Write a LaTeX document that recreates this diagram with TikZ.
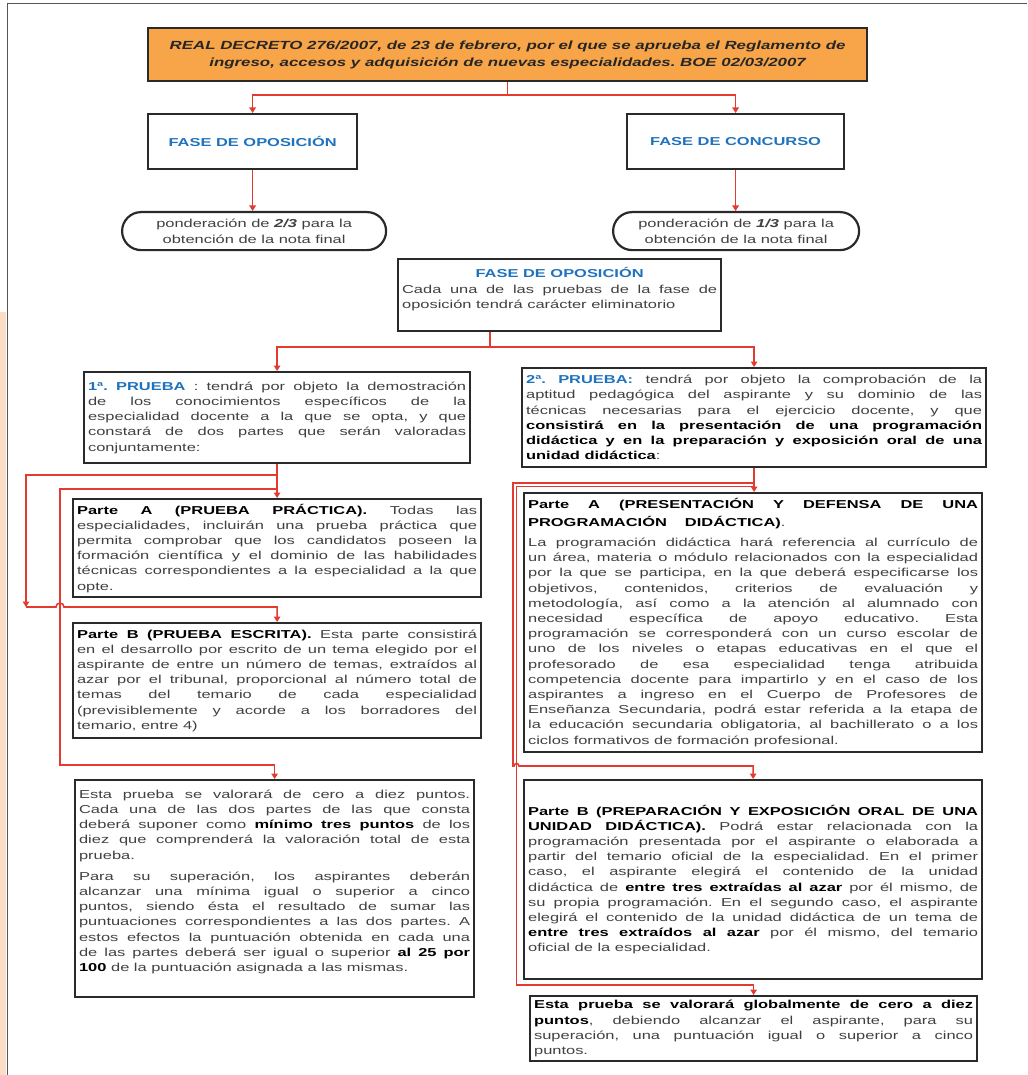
\documentclass[tikz,border=0pt]{standalone}
\usepackage{fontspec}
\setmainfont[FakeStretch=1.43]{Liberation Sans}
\usetikzlibrary{arrows.meta}

\definecolor{naranja}{HTML}{F7A548}
\definecolor{azulfase}{HTML}{1F72BE}
\definecolor{borde}{HTML}{2A2A2A}
\definecolor{cuerpo}{HTML}{404040}
\definecolor{rojo}{HTML}{E33B2F}
\definecolor{melocoton}{HTML}{FBDDC5}
\definecolor{marco}{HTML}{555555}

\hyphenpenalty=10000
\frenchspacing
\newcommand{\az}[1]{\textcolor{azulfase}{\textbf{#1}}}
\newcommand{\nb}[1]{\textbf{\color{black}#1}}
\newcommand{\padbot}[1]{\rule[-#1]{0pt}{#1}}

\begin{document}
\begin{tikzpicture}[x=1pt,y=1pt,
    caja/.style={draw=borde,line width=2.2pt,anchor=north west,inner xsep=4pt,inner ysep=2pt,
                 text=cuerpo,font=\fontsize{11.5}{15.2}\selectfont},
    just/.style={align=justify},
    flecha/.style={draw=rojo,line width=1.6pt,-{Triangle[width=6.5pt,length=5.5pt]}},
    linea/.style={draw=rojo,line width=1.6pt}]
\useasboundingbox (0,0) rectangle (1027,-1075);

\fill[melocoton] (0,-312) rectangle (6,-1075);
\draw[marco,line width=1pt] (7,-1075) -- (7,-4) -- (1027,-4);

\node[caja,fill=naranja,minimum width=719,minimum height=53,align=center,text=black!85,
      font=\fontsize{11.8}{17}\selectfont\bfseries\itshape] (title) at (147,-27)
      {REAL DECRETO 276/2007, de 23 de febrero, por el que se aprueba el Reglamento de\\
       ingreso, accesos y adquisición de nuevas especialidades. BOE 02/03/2007};

\node[caja,minimum width=209,minimum height=55] (opos) at (147,-113) {\az{FASE DE OPOSICIÓN}};
\node[caja,minimum width=217,minimum height=55] (conc) at (626,-113) {\az{FASE DE CONCURSO}};

\node[caja,rounded corners=19pt,minimum width=264,minimum height=38,align=center,
      font=\fontsize{11.5}{16}\selectfont] (pond1) at (121,-211)
      {ponderación de \textbf{\textit{2/3}} para la\\obtención de la nota final};
\node[caja,rounded corners=19pt,minimum width=246,minimum height=38,align=center,
      font=\fontsize{11.5}{16}\selectfont] (pond2) at (612,-211)
      {ponderación de \textbf{\textit{1/3}} para la\\obtención de la nota final};

\node[caja,just,text width=315,minimum height=72] (opos2) at (397,-258)
      {{\centering\az{FASE DE OPOSICIÓN}\par}
       Cada una de las pruebas de la fase de\linebreak oposición tendrá carácter eliminatorio\padbot{14pt}};

\node[caja,just,text width=378,minimum height=91] (p1) at (83,-371)
      {\az{1ª. PRUEBA} : tendrá por objeto la demostración\linebreak
       de los conocimientos específicos de la\linebreak
       especialidad docente a la que se opta, y que\linebreak
       constará de dos partes que serán valoradas\linebreak
       conjuntamente:};

\node[caja,just,text width=456,minimum height=99] (p2) at (521,-367)
      {\az{2ª. PRUEBA:} tendrá por objeto la comprobación de la\linebreak
       aptitud pedagógica del aspirante y su dominio de las\linebreak
       técnicas necesarias para el ejercicio docente, y que\linebreak
       \nb{consistirá en la presentación de una programación\linebreak
       didáctica y en la preparación y exposición oral de una\linebreak
       unidad didáctica}:};

\node[caja,just,text width=400,minimum height=98] (p1a) at (72,-498)
      {\nb{Parte A (PRUEBA PRÁCTICA).} Todas las\linebreak
       especialidades, incluirán una prueba práctica que\linebreak
       permita comprobar que los candidatos poseen la\linebreak
       formación científica y el dominio de las habilidades\linebreak
       técnicas correspondientes a la especialidad a la que\linebreak
       opte.};

\node[caja,just,text width=400,minimum height=115] (p1b) at (72,-622)
      {\nb{Parte B (PRUEBA ESCRITA).} Esta parte consistirá\linebreak
       en el desarrollo por escrito de un tema elegido por el\linebreak
       aspirante de entre un número de temas, extraídos al\linebreak
       azar por el tribunal, proporcional al número total de\linebreak
       temas del temario de cada especialidad\linebreak
       (previsiblemente y acorde a los borradores del\linebreak
       temario, entre 4)};

\node[caja,just,text width=391,minimum height=217] (p1v) at (74,-779)
      {Esta prueba se valorará de cero a diez puntos.\linebreak
       Cada una de las dos partes de las que consta\linebreak
       deberá suponer como \nb{mínimo tres puntos} de los\linebreak
       diez que comprenderá la valoración total de esta\linebreak
       prueba.\par\vspace{6pt}
       Para su superación, los aspirantes deberán\linebreak
       alcanzar una mínima igual o superior a cinco\linebreak
       puntos, siendo ésta el resultado de sumar las\linebreak
       puntuaciones correspondientes a las dos partes. A\linebreak
       estos efectos la puntuación obtenida en cada una\linebreak
       de las partes deberá ser igual o superior \nb{al 25 por\linebreak
       100} de la puntuación asignada a las mismas.\padbot{16pt}};

\node[caja,just,text width=450,minimum height=259] (p2a) at (523,-492)
      {{\fontsize{11.5}{17.5}\selectfont\nb{Parte A (PRESENTACIÓN Y DEFENSA DE UNA\linebreak
       PROGRAMACIÓN\hspace{18pt}DIDÁCTICA)}.\par}\vspace{5pt}
       La programación didáctica hará referencia al currículo de\linebreak
       un área, materia o módulo relacionados con la especialidad\linebreak
       por la que se participa, en la que deberá especificarse los\linebreak
       objetivos, contenidos, criterios de evaluación y\linebreak
       metodología, así como a la atención al alumnado con\linebreak
       necesidad específica de apoyo educativo. Esta\linebreak
       programación se corresponderá con un curso escolar de\linebreak
       uno de los niveles o etapas educativas en el que el\linebreak
       profesorado de esa especialidad tenga atribuida\linebreak
       competencia docente para impartirlo y en el caso de los\linebreak
       aspirantes a ingreso en el Cuerpo de Profesores de\linebreak
       Enseñanza Secundaria, podrá estar referida a la etapa de\linebreak
       la educación secundaria obligatoria, al bachillerato o a los\linebreak
       ciclos formativos de formación profesional.};

\node[caja,just,text width=450,minimum height=199] (p2b) at (523,-779)
      {\nb{Parte B (PREPARACIÓN Y EXPOSICIÓN ORAL DE UNA\linebreak
       UNIDAD DIDÁCTICA).} Podrá estar relacionada con la\linebreak
       programación presentada por el aspirante o elaborada a\linebreak
       partir del temario oficial de la especialidad. En el primer\linebreak
       caso, el aspirante elegirá el contenido de la unidad\linebreak
       didáctica de \nb{entre tres extraídas al azar} por él mismo, de\linebreak
       su propia programación. En el segundo caso, el aspirante\linebreak
       elegirá el contenido de la unidad didáctica de un tema de\linebreak
       \nb{entre tres extraídos al azar} por él mismo, del temario\linebreak
       oficial de la especialidad.};

\node[caja,just,text width=439,minimum height=65] (p2v) at (529,-995)
      {\nb{Esta prueba se valorará globalmente de cero a diez\linebreak
       puntos}, debiendo alcanzar el aspirante, para su\linebreak
       superación, una puntuación igual o superior a cinco\linebreak
       puntos.};

\draw[linea] (title.south) -- ++(0,-13) coordinate (j0);
\draw[flecha] (j0) -| (opos.north);
\draw[flecha] (j0) -| (conc.north);
\draw[flecha] (opos.south) -- (opos.south |- pond1.north);
\draw[flecha] (conc.south) -- (conc.south |- pond2.north);

\coordinate (j1) at (490,-347);
\draw[linea] (j1 |- opos2.south) -- (j1);
\draw[flecha] (j1) -| (p1.north);
\draw[flecha] (j1) -| (p2.north);

\draw[flecha] (p1.south) -- (p1.south |- p1a.north);
\coordinate (l1) at (26,-475);
\coordinate (l1b) at (26,-607);
\draw[flecha] (p1.south |- l1) -- (l1) -- (l1b);
\draw[flecha] (l1b) -- ++(30,0) arc[start angle=180,end angle=0,radius=4pt] -| (p1b.north);
\coordinate (l2) at (60,-489);
\coordinate (l2b) at (60,-765);
\draw[flecha] (p1.south |- l2) -- (l2) -- (l2b) -| (p1v.north);

\draw[flecha] (p2.south) -- (p2.south |- p2a.north);
\coordinate (r1) at (513,-483);
\coordinate (r1b) at (513,-766);
\draw[flecha] (p2.south |- r1) -- (r1) -- (r1b) -- ++(1,0) arc[start angle=180,end angle=0,radius=2.5pt] -| (p2b.north);
\coordinate (r2) at (516.5,-486.5);
\coordinate (r2b) at (516.5,-985);
\draw[flecha] (p2.south |- r2) -- (r2) -- (r2b) -| (p2v.north);
\end{tikzpicture}
\end{document}
